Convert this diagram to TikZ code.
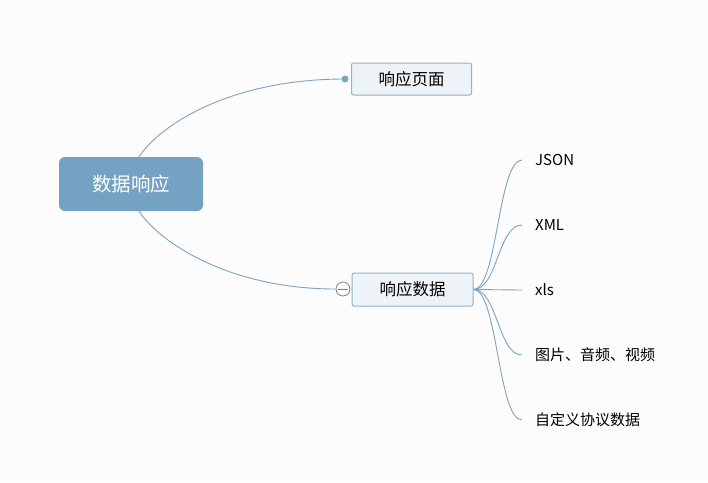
\documentclass[tikz,border=0pt]{standalone}
\usepackage{fontspec}
\setmainfont{Noto Sans CJK SC}
\usepackage{xcolor}
\definecolor{bgcolor}{HTML}{FCFCFD}
\definecolor{rootcolor}{HTML}{75A1C2}
\definecolor{linecolor}{HTML}{7BA3C2}
\definecolor{topicborder}{HTML}{8FB3CC}
\definecolor{topicfill}{HTML}{EEF3F7}
\tikzset{
  topic/.style={draw=topicborder,fill=topicfill,rounded corners=2pt,line width=1pt,
    minimum width=120pt,minimum height=32pt,inner sep=0pt,font=\fontsize{16.5}{18}\selectfont},
  leaf/.style={anchor=west,inner xsep=13pt,inner ysep=0pt,font=\fontsize{15}{16}\selectfont},
  link/.style={draw=linecolor,line width=0.9pt},
}

\begin{document}
\begin{tikzpicture}[x=1pt,y=-1pt]
    \fill [bgcolor] (0,0) rectangle (708,482);
    \useasboundingbox (0,0) rectangle (708,482);
    \node (root) [fill=rootcolor,rounded corners=6pt,minimum width=144pt,minimum height=54pt,
      text=white,font=\fontsize{19.5}{22}\selectfont] at (131,184) {数据响应};
    \node (page) [topic] at (411.5,79) {响应页面};
    \node (data) [topic,minimum width=121pt,minimum height=33pt] at (412.5,289.5) {响应数据};
    \fill [linecolor] (345,79) circle (3.5pt) coordinate (pagedot);
    \node (fold) [circle,draw=gray,fill=white,line width=0.8pt,minimum size=14pt,inner sep=0pt] at (343,289) {};
    \draw [gray,line width=0.8pt] ([xshift=2pt]fold.west) -- ([xshift=-2pt]fold.east);
    \path [link] ([xshift=8pt]root.north) .. controls (160,125) and (230,79) .. (pagedot);
    \path [link] ([xshift=8pt]root.south) .. controls (160,243) and (230,289) .. (fold.west);
    % leaves
    \node (json) [leaf] at (522,160) {JSON};
    \node (xml) [leaf] at (522,225) {XML};
    \node (xls) [leaf] at (522,290) {xls};
    \node (media) [leaf] at (522,355) {图片、音频、视频};
    \node (custom) [leaf] at (522,420) {自定义协议数据};
    \foreach \leafname in {json,xml,xls,media,custom}
      \path [link] (data.east) .. controls +(24,0) and +(-24,0) .. (\leafname.west);
\end{tikzpicture}
\end{document}
